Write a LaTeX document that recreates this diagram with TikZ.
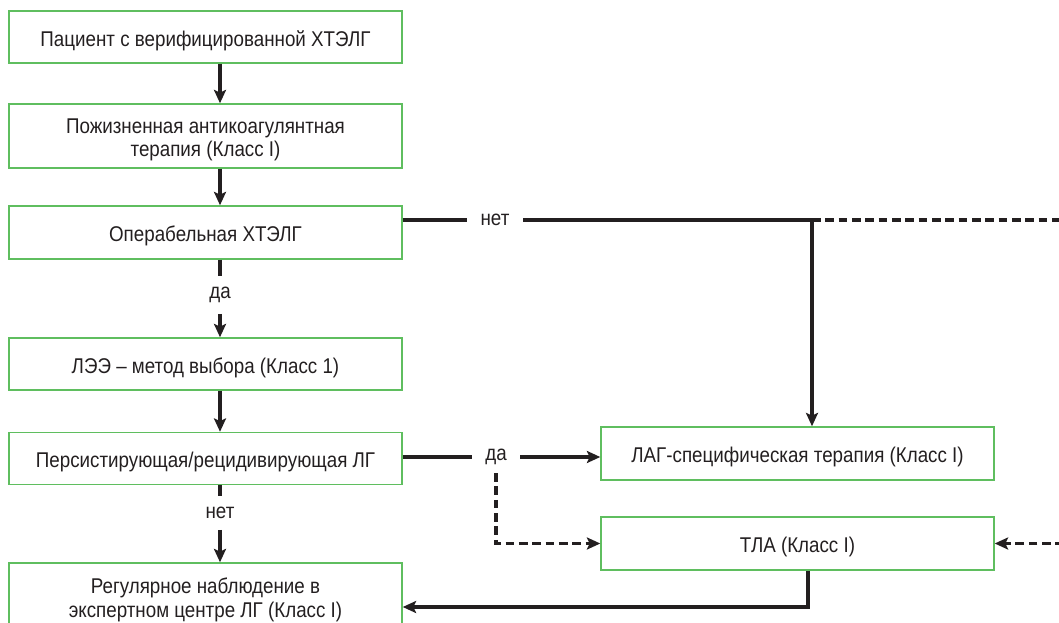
\documentclass[tikz,border=0pt]{standalone}
\usepackage{fontspec}
\setmainfont[FakeStretch=0.88]{Liberation Sans}
\usetikzlibrary{arrows.meta}
\definecolor{boxgreen}{RGB}{95,190,95}
\definecolor{ink}{RGB}{35,31,32}
\newcommand\mystrut{\rule{0pt}{17pt}}
\tikzset{
  box/.style={draw=boxgreen, line width=1.1pt, minimum width=393*0.75pt, align=center, text=ink, inner sep=0pt,
    font=\fontsize{16}{17.5}\selectfont},
  lbl/.style={text=ink, inner xsep=10pt, inner ysep=6pt, font=\fontsize{16}{17.5}\selectfont},
  ln/.style={draw=ink, line width=2.3pt},
  dsh/.style={draw=ink, line width=2.3pt, dash pattern=on 6.5pt off 3.5pt},
  tip/.style={-{Stealth[length=10pt,width=9pt,inset=2pt]}}
}
\begin{document}
\begin{tikzpicture}[x=0.75pt,y=-0.75pt]
\clip (0,0) rectangle (1059,623);
\useasboundingbox (0,0) rectangle (1059,623);
\node[box, minimum height=52*0.75pt] (b1) at (205.5,37) {\mystrut Пациент с верифицированной ХТЭЛГ};
\node[box, minimum height=64*0.75pt] (b2) at (205.5,136) {\mystrut Пожизненная антикоагулянтная\\терапия (Класс I)};
\node[box, minimum height=53*0.75pt] (b3) at (205.5,232.5) {\mystrut Операбельная ХТЭЛГ};
\node[box, minimum height=52*0.75pt] (b4) at (205.5,364) {\mystrut ЛЭЭ – метод выбора (Класс 1)};
\node[box, minimum height=52*0.75pt] (b5) at (205.5,458.5) {\mystrut Персистирующая/рецидивирующая ЛГ};
\node[box, minimum height=67*0.75pt] (b6) at (205.5,596.5) {\mystrut Регулярное наблюдение в\\экспертном центре ЛГ (Класс I)};
\node[box, minimum height=53*0.75pt] (lag) at (797.5,453.5) {\mystrut ЛАГ-специфическая терапия (Класс I)};
\node[box, minimum height=53*0.75pt] (tla) at (797.5,543.5) {\mystrut ТЛА (Класс I)};
\coordinate (ax) at (220,0);
\node[lbl] (no1) at (495,220) {нет};
\node[lbl, inner ysep=8pt] (yes1) at (220,295) {да};
\node[lbl] (yes2) at (496,457) {да};
\node[lbl, inner ysep=8pt] (no2) at (220,513) {нет};
\coordinate (j1) at (812,220);
\coordinate (r1) at (1064,220);
\coordinate (r2) at (1064,543.5);
\coordinate (j2) at (808,607);
% main column
\draw[ln,tip] (b1.south -| ax) -- (b2.north -| ax);
\draw[ln,tip] (b2.south -| ax) -- (b3.north -| ax);
\draw[ln] (b3.south -| ax) -- (yes1.north);
\draw[ln,tip] (yes1.south) -- (b4.north -| ax);
\draw[ln,tip] (b4.south -| ax) -- (b5.north -| ax);
\draw[ln] (b5.south -| ax) -- (no2.north);
\draw[ln,tip] (no2.south) -- (b6.north -| ax);
% operable: no
\draw[ln] (b3.east |- no1) -- (no1.west);
\draw[ln,tip] (no1.east) -- (j1) -- (j1 |- lag.north);
\draw[dsh] (j1) -- (r1);
\draw[dsh,tip] (r2) -- (tla.east);
% persistent: yes
\draw[ln] (b5.east |- yes2) -- (yes2.west);
\draw[ln,tip] (yes2.east) -- (lag.west |- yes2);
\draw[dsh,tip] (yes2.south) -- (yes2.south |- tla.west) -- (tla.west);
% TLA back to follow-up
\draw[ln,tip] (tla.south -| j2) -- (j2) -- (b6.east |- j2);
\end{tikzpicture}
\end{document}
